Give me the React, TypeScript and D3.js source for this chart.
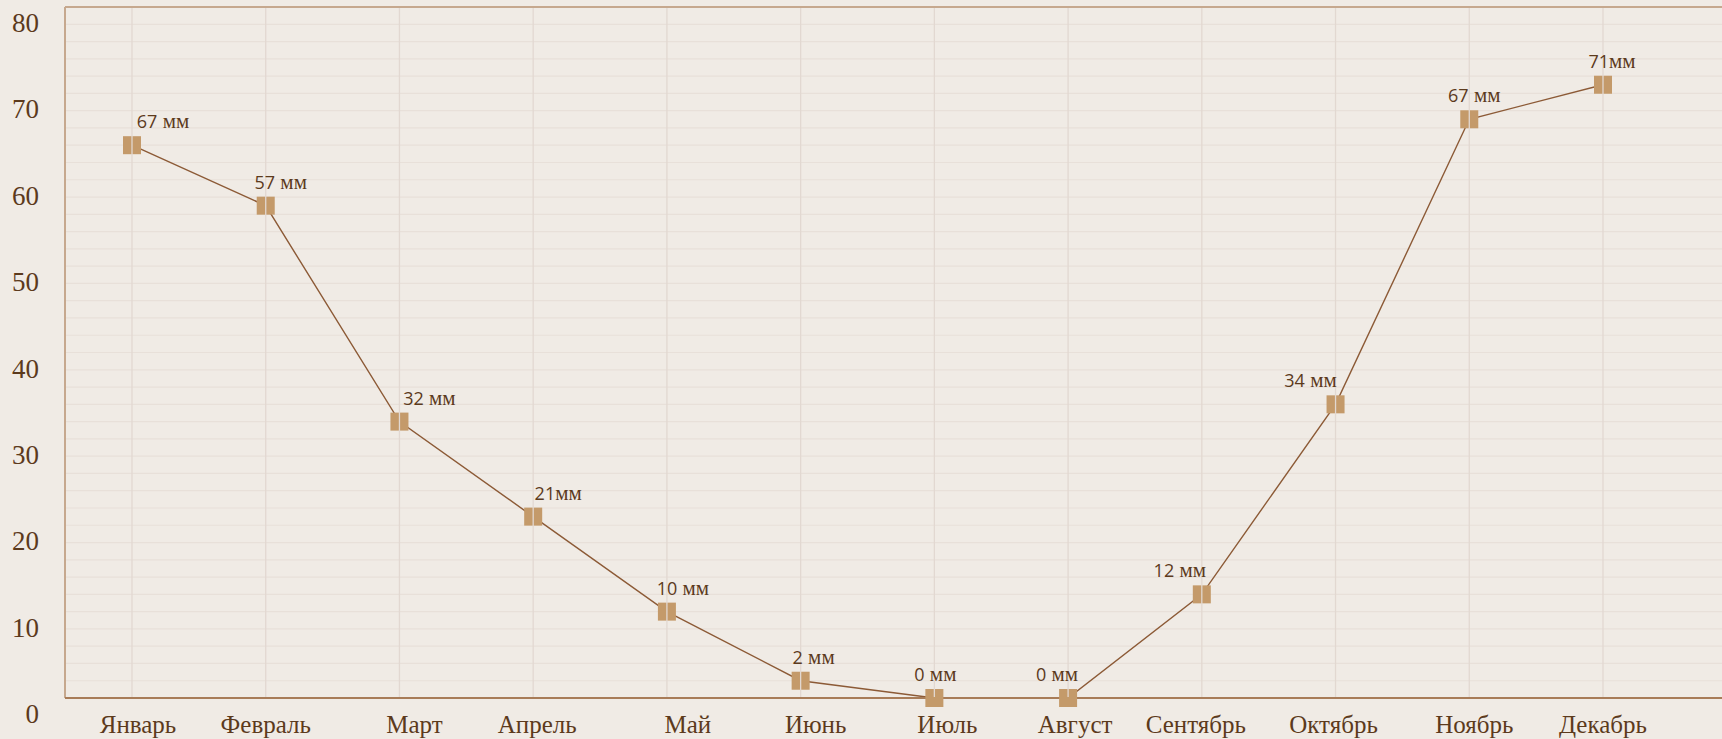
import { useEffect, useRef } from "react";
import * as d3 from "d3";

// monthly precipitation, mm
const months = [
  "Январь", "Февраль", "Март", "Апрель", "Май", "Июнь",
  "Июль", "Август", "Сентябрь", "Октябрь", "Ноябрь", "Декабрь",
];
const values = [64, 57, 32, 21, 10, 2, 0, 0, 12, 34, 67, 71];
const valueNums = ["67", "57", "32", "21", "10", "2", "0", "0", "12", "34", "67", "71"];
const valueUnits = [" мм", " мм", " мм", "мм", " мм", " мм", " мм", " мм", " мм", " мм", " мм", "мм"];
const yTicks = [0, 10, 20, 30, 40, 50, 60, 70, 80];

// hand-placed label nudges (px, relative to the point)
const labelDx = [31, 15, 30, 25, 16, 13, 1, -11, -22, -25, 5, 9];
const monthDx = [6, 0, 15, 4, 21, 15, 13, 7, -6, -2, 5, 0];

const W = 1722;
const H = 739;
const margin = { top: 7, left: 65, bottom: 41 };

export default function App() {
  const ref = useRef<SVGSVGElement>(null);

  useEffect(() => {
    document.body.style.margin = "0";
    const svg = d3.select(ref.current);
    svg.selectAll("*").remove();

    const bottom = H - margin.bottom;
    const x = d3.scalePoint<string>().domain(months).range([132, 1603]);
    const y = d3.scaleLinear().domain([0, 80]).range([bottom, margin.top]);

    svg.append("rect").attr("width", W).attr("height", H).attr("fill", "#f0ebe5");

    // minor horizontal grid every 2 mm
    svg.append("g")
      .selectAll("line")
      .data(d3.range(2, 80, 2))
      .join("line")
      .attr("x1", margin.left)
      .attr("x2", W)
      .attr("y1", (d) => y(d))
      .attr("y2", (d) => y(d))
      .attr("stroke", "#e8e0d9")
      .attr("stroke-width", 1.2);

    // line
    const line = d3
      .line<number>()
      .x((_, i) => x(months[i])!)
      .y((d) => y(d));
    svg.append("path")
      .datum(values)
      .attr("fill", "none")
      .attr("stroke", "#8c5a36")
      .attr("stroke-width", 1.4)
      .attr("d", line);

    // axes frame
    svg.append("line")
      .attr("x1", margin.left).attr("x2", W)
      .attr("y1", margin.top).attr("y2", margin.top)
      .attr("stroke", "#c6a88e").attr("stroke-width", 2);
    svg.append("line")
      .attr("x1", margin.left).attr("x2", margin.left)
      .attr("y1", margin.top).attr("y2", bottom)
      .attr("stroke", "#c6a88e").attr("stroke-width", 2);
    svg.append("line")
      .attr("x1", margin.left).attr("x2", W)
      .attr("y1", bottom).attr("y2", bottom)
      .attr("stroke", "#a87c58").attr("stroke-width", 2);

    // markers
    svg.append("g")
      .selectAll("rect")
      .data(values)
      .join("rect")
      .attr("x", (_, i) => x(months[i])! - 9)
      .attr("y", (d) => y(d) - 9)
      .attr("width", 18)
      .attr("height", 18)
      .attr("fill", "#c49a6a");

    // vertical grid (drawn over markers, as in the original)
    svg.append("g")
      .selectAll("line")
      .data(months)
      .join("line")
      .attr("x1", (d) => x(d)!)
      .attr("x2", (d) => x(d)!)
      .attr("y1", margin.top + 1)
      .attr("y2", bottom - 1)
      .attr("stroke", "#e2d8d1")
      .attr("stroke-width", 1.3);

    // value labels
    const lbl = svg.append("g")
      .selectAll("text")
      .data(values)
      .join("text")
      .attr("x", (_, i) => x(months[i])! + labelDx[i])
      .attr("y", (d) => y(d) - 17)
      .attr("text-anchor", "middle")
      .attr("fill", "#5c3a1c");
    lbl.append("tspan")
      .attr("font-family", "'Open Sans', sans-serif")
      .attr("font-size", 18)
      .text((_, i) => valueNums[i]);
    lbl.append("tspan")
      .attr("font-family", "'Liberation Serif', serif")
      .attr("font-size", 21)
      .text((_, i) => valueUnits[i]);

    // y tick labels
    svg.append("g")
      .selectAll("text")
      .data(yTicks)
      .join("text")
      .attr("x", 39)
      .attr("y", (d) => y(d) + 25)
      .attr("text-anchor", "end")
      .attr("font-family", "'Liberation Serif', serif")
      .attr("font-size", 27)
      .attr("fill", "#5c3a1c")
      .text((d) => d);

    // month labels
    svg.append("g")
      .selectAll("text")
      .data(months)
      .join("text")
      .attr("x", (d, i) => x(d)! + monthDx[i])
      .attr("y", bottom + 35)
      .attr("text-anchor", "middle")
      .attr("font-family", "'Liberation Serif', serif")
      .attr("font-size", 25)
      .attr("fill", "#5c3a1c")
      .text((d) => d);
  }, []);

  return (
    <svg
      ref={ref}
      width={W}
      height={H}
      style={{ display: "block", position: "absolute", left: 0, top: 0 }}
    />
  );
}
